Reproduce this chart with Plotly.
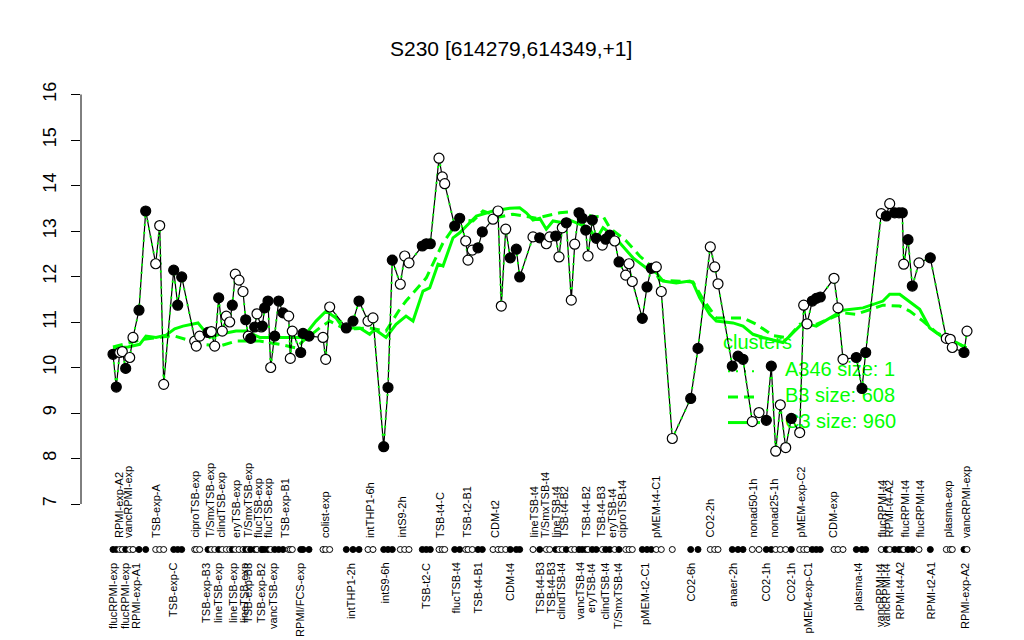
import plotly.graph_objects as go

# ---- sample positions (order along the x axis), expression values, symbol fill ----
pos = [0.0, 3.3, 6.7, 9.3, 12.7, 16.7, 20.0, 26.0, 32.7, 42.7, 46.7, 50.7, 60.7, 64.7, 68.7,
       81.7, 83.3, 86.7, 95.0, 98.3, 101.7, 105.7, 109.3, 113.3, 116.7, 119.3, 122.3, 126.0,
       130.0, 132.7, 135.3, 137.7, 141.7, 144.0, 148.3, 149.3, 151.7, 155.0, 157.7, 161.7,
       165.7, 170.0, 175.7, 177.3, 179.3, 187.7, 190.0, 196.0, 210.0, 212.7, 216.7, 233.3,
       240.0, 246.0, 255.0, 260.0, 270.7, 275.0, 279.3, 287.3, 291.7, 296.0, 309.3, 313.3,
       317.3, 326.0, 329.3, 331.7, 341.7, 346.7, 352.7, 355.0, 359.3, 365.0, 369.3, 380.0,
       385.0, 388.3, 392.7, 397.3, 403.3, 406.7, 420.0, 426.7, 433.3, 436.7, 442.7, 446.0,
       449.3, 453.3, 458.3, 461.7, 466.0, 469.3, 472.7, 475.0, 479.3, 483.3, 489.3, 492.7,
       496.7, 501.7, 506.0, 512.7, 516.0, 519.3, 529.3, 534.0, 538.3, 543.3, 548.3, 559.3,
       577.7, 585.0, 597.3, 601.7, 605.0, 619.3, 625.0, 630.0, 639.3, 646.0, 653.3, 658.3,
       662.7, 667.3, 672.7, 678.3, 686.7, 690.7, 694.0, 699.3, 703.3, 707.3, 721.0, 725.0,
       730.0, 743.3, 749.0, 752.7, 768.3, 773.3, 776.7, 781.7, 786.0, 789.3, 790.7, 795.0,
       799.3, 806.0, 817.3, 833.3, 837.3, 839.3, 851.0, 854.0]
vals = [10.29, 9.57, 10.33, 10.35, 9.98, 10.22, 10.66, 11.26, 13.44, 12.28, 13.12, 9.63, 12.14,
        11.37, 11.99, 10.58, 10.47, 10.69, 10.77, 10.79, 10.47, 11.53, 10.80, 11.13, 11.00,
        11.37, 12.05, 11.92, 11.67, 11.05, 10.69, 10.64, 10.89, 11.18, 10.89, 10.91, 11.31,
        11.46, 10.00, 10.69, 11.46, 11.20, 11.13, 10.20, 10.80, 10.33, 10.75, 10.69, 10.66,
        10.18, 11.33, 10.87, 11.02, 11.46, 11.02, 11.09, 8.26, 9.56, 12.36, 11.83, 12.45,
        12.30, 12.67, 12.72, 12.72, 14.60, 14.19, 14.04, 13.11, 13.28, 12.78, 12.36, 12.58,
        12.63, 12.98, 13.26, 13.44, 11.35, 13.04, 12.41, 12.60, 11.99, 12.87, 12.85, 12.72,
        12.87, 12.89, 12.43, 13.07, 13.18, 11.48, 12.71, 13.40, 13.28, 13.02, 12.45, 13.24,
        12.84, 12.69, 12.82, 12.91, 12.78, 12.32, 12.03, 12.28, 11.89, 11.08, 11.77, 12.18,
        12.21, 11.67, 8.44, 9.32, 10.42, 12.65, 12.21, 11.84, 10.03, 10.25, 10.18, 8.81, 9.01,
        8.84, 10.03, 8.16, 9.18, 8.24, 8.88, 8.57, 11.37, 10.96, 11.46, 11.52, 11.55, 11.96,
        11.31, 10.18, 10.22, 9.54, 10.33, 13.38, 13.33, 13.60, 13.40, 13.40, 13.40, 12.27,
        12.81, 11.79, 12.30, 12.41, 10.64, 10.62, 10.44, 10.33, 10.80]
filled = [1, 1, 0, 0, 1, 0, 0, 1, 1, 0, 0, 0, 1, 1, 1,
          0, 0, 0, 1, 0, 0, 1, 0, 0, 0, 1, 0, 0,
          0, 1, 0, 1, 1, 0, 0, 1, 1, 1, 0, 1,
          1, 1, 0, 0, 0, 1, 1, 1, 0, 0, 0, 1,
          1, 1, 0, 0, 1, 1, 1, 0, 0, 0, 1, 1,
          1, 0, 0, 0, 1, 1, 0, 0, 0, 1, 1, 0,
          0, 0, 0, 1, 1, 1, 0, 1, 0, 0, 1, 0,
          0, 1, 0, 0, 1, 1, 1, 0, 1, 1, 0, 1,
          1, 0, 1, 0, 0, 0, 1, 1, 1, 0, 0, 0,
          1, 1, 0, 0, 0, 1, 1, 1, 0, 0, 1, 1,
          0, 0, 0, 1, 0, 0, 0, 1, 1, 1, 0, 0,
          0, 1, 1, 1, 0, 1, 0, 1, 1, 1, 0, 1,
          1, 0, 1, 0, 0, 0, 1, 0]

# ---- cluster mean profiles ----
c3_pos = [0, 15, 26.7, 33, 43, 53, 61.7, 70, 85, 90, 96.7, 106.7, 123, 133, 146.7, 163, 176.7,
          190, 203, 213, 223, 230, 246.7, 256.7, 261.7, 273, 283, 293, 300, 310, 316.7, 325,
          330, 340, 346.7, 363.3, 380, 396.7, 406.7, 413.3, 420, 426.7, 433.3, 440, 450, 456.7,
          466.7, 476.7, 483.3, 490, 496.7, 506.7, 520, 533.3, 543.3, 550, 563.3, 576.7, 580,
          586.7, 596.7, 603.3, 620, 630, 640, 650, 670, 680, 690, 703.3, 716.7, 730, 750,
          770, 776.7, 786.7, 793.3, 806.7, 816.7, 830, 843.3, 853.3]
c3_val = [10.43, 10.45, 10.51, 10.69, 10.66, 10.71, 10.85, 10.91, 10.98, 10.85, 10.66, 10.73,
          10.80, 10.80, 10.66, 10.66, 10.66, 10.66, 11.02, 11.24, 11.09, 10.87, 10.87, 10.73,
          10.84, 10.66, 10.95, 11.13, 11.02, 11.68, 11.75, 12.27, 12.23, 12.85, 12.96, 13.33,
          13.44, 13.50, 13.51, 13.40, 13.24, 13.28, 13.04, 13.22, 13.18, 13.24, 13.15, 13.04,
          12.82, 13.07, 12.96, 12.74, 12.41, 12.19, 12.08, 11.90, 11.86, 11.90, 11.86, 11.53,
          11.17, 11.02, 10.98, 10.91, 10.73, 10.66, 10.55, 10.77, 10.98, 10.91, 11.09, 11.26,
          11.31, 11.46, 11.61, 11.61, 11.50, 11.28, 10.87, 10.66, 10.55, 10.43]
b3_pos = [0, 30, 60, 72, 90, 106.7, 123, 146.7, 166.7, 183, 190, 206.7, 216.7, 230, 243,
          256.7, 273, 286.7, 293, 313.3, 330, 346.7, 360, 370, 386.7, 400, 423.3, 446.7,
          466.7, 480, 490, 496.7, 513.3, 526.7, 540, 546.7, 560, 580, 590, 603.3, 630, 643.3,
          660, 675, 686.7, 703.3, 730, 743.3, 770, 786.7, 796.7, 810, 823.3, 853.3]
b3_val = [10.45, 10.62, 10.70, 10.62, 10.51, 10.47, 10.58, 10.58, 10.51, 10.43, 10.58, 10.87,
          11.02, 10.87, 10.85, 10.87, 10.80, 11.28, 11.46, 11.97, 12.74, 13.26, 13.22, 13.44,
          13.31, 13.37, 13.28, 13.40, 13.44, 13.31, 13.33, 13.07, 12.78, 12.45, 12.19, 11.92,
          11.90, 11.88, 11.50, 11.09, 11.09, 10.95, 10.70, 10.65, 10.95, 10.95, 11.20, 11.17,
          11.37, 11.35, 11.24, 11.02, 10.77, 10.43]

# ---- sample labels (two rows under the axis) ----
top_pos = [6, 15, 43, 82, 97, 108, 123, 135, 145, 155, 172, 212, 257, 289, 327, 354, 382,
           421, 432, 443, 451, 473, 488, 499, 509, 543, 597, 640, 661, 688, 720, 769, 776,
           792, 807, 835, 853]
top_lab = ["RPMI-exp-A2", "vancRPMI-exp", "TSB-exp-A", "ciproTSB-exp", "T/SmxTSB-exp",
           "clindTSB-exp", "eryTSB-exp", "T/SmxTSB-exp", "flucTSB-exp", "flucTSB-exp",
           "TSB-exp-B1", "colist-exp", "intTHP1-6h", "intS9-2h", "TSB-t4-C", "TSB-t2-B1",
           "CDM-t2", "lineTSB-t4", "T/SmxTSB-t4", "lineTSB-t4", "TSB-t4-B2", "TSB-t4-B2",
           "TSB-t4-B3", "eryTSB-t4", "ciproTSB-t4", "pMEM-t4-C1", "CO2-2h", "nonad50-1h",
           "nonad25-1h", "pMEM-exp-C2", "CDM-exp", "flucRPMI-t4", "RPMI-t4-A2",
           "flucRPMI-t4", "flucRPMI-t4", "plasma-exp", "vancRPMI-exp"]
bot_pos = [0, 12, 23, 60, 93, 105, 120, 131, 135, 148, 160, 187, 238, 272, 313, 343, 365,
           397, 427, 438, 448, 467, 478, 492, 505, 532, 578, 620, 653, 678, 695, 745, 767,
           773, 787, 818, 852]
bot_lab = ["flucRPMI-exp", "flucRPMI-exp", "RPMI-exp-A1", "TSB-exp-C", "TSB-exp-B3",
           "lineTSB-exp", "lineTSB-exp", "lineTSB-exp", "TSB-exp-B3", "TSB-exp-B2",
           "vancTSB-exp", "RPMI/FCS-exp", "intTHP1-2h", "intS9-6h", "TSB-t2-C", "flucTSB-t4",
           "TSB-t4-B1", "CDM-t4", "TSB-t4-B3", "TSB-t4-B3", "clindTSB-t4", "vancTSB-t4",
           "eryTSB-t4", "clindTSB-t4", "T/SmxTSB-t4", "pMEM-t2-C1", "CO2-6h", "anaer-2h",
           "CO2-1h", "CO2-1h", "pMEM-exp-C1", "plasma-t4", "vancRPMI-t4", "vancRPMI-t4",
           "RPMI-t4-A2", "RPMI-t2-A1", "RPMI-exp-A2"]

y_ticks = [7, 8, 9, 10, 11, 12, 13, 14, 15, 16]
title = "S230 [614279,614349,+1]"
legend_title = "clusters"
legend_labels = ["A346 size: 1", "B3 size: 608", "C3 size: 960"]

GREEN = "#00ff00"
FONT = "Liberation Sans"
DOT_Y = 6.0
TOP_Y = 6.21
BOT_Y = 5.75

fig = go.Figure()

# legend (drawn first so the data sits on top of it)
leg_x0, leg_x1, leg_tx = 615, 647, 672
leg_y = [9.92, 9.35, 8.79]
fig.add_trace(go.Scatter(x=[610], y=[10.52], mode="text", text=[legend_title],
                         textposition="middle right",
                         textfont=dict(family=FONT, size=20, color=GREEN),
                         showlegend=False, hoverinfo="skip"))
fig.add_trace(go.Scatter(x=[leg_tx] * 3, y=leg_y, mode="text", text=legend_labels,
                         textposition="middle right",
                         textfont=dict(family=FONT, size=20, color=GREEN),
                         showlegend=False, hoverinfo="skip"))
for yy, dash in zip(leg_y, ["2px,6px", "10px,6px", "solid"]):
    fig.add_trace(go.Scatter(x=[leg_x0, leg_x1], y=[yy, yy], mode="lines",
                             line=dict(color=GREEN, width=3 if dash != "2px,6px" else 2,
                                       dash=dash),
                             showlegend=False, hoverinfo="skip"))

# cluster profiles
fig.add_trace(go.Scatter(x=c3_pos, y=c3_val, mode="lines",
                         line=dict(color=GREEN, width=3), showlegend=False))
fig.add_trace(go.Scatter(x=b3_pos, y=b3_val, mode="lines",
                         line=dict(color=GREEN, width=3, dash="10px,6px"), showlegend=False))

# the gene profile
fig.add_trace(go.Scatter(x=pos, y=vals, mode="lines",
                         line=dict(color="black", width=1.2), showlegend=False))
fig.add_trace(go.Scatter(x=pos, y=vals, mode="lines",
                         line=dict(color=GREEN, width=2, dash="2px,6px"), showlegend=False))
fcol = ["black" if f else "white" for f in filled]
fig.add_trace(go.Scatter(x=pos, y=vals, mode="markers",
                         marker=dict(size=10, color=fcol, line=dict(color="black", width=1.2)),
                         showlegend=False))
# sample symbol row under the axis
fig.add_trace(go.Scatter(x=pos, y=[DOT_Y] * len(pos), mode="markers",
                         marker=dict(size=6, color=fcol, line=dict(color="black", width=1)),
                         showlegend=False))

ann = []
for p, t in zip(top_pos, top_lab):
    ann.append(dict(x=p, y=TOP_Y, xref="x", yref="y", text=t, textangle=-90,
                    showarrow=False, xanchor="center", yanchor="bottom",
                    font=dict(family=FONT, size=11, color="black")))
for p, t in zip(bot_pos, bot_lab):
    ann.append(dict(x=p, y=BOT_Y, xref="x", yref="y", text=t, textangle=-90,
                    showarrow=False, xanchor="center", yanchor="top",
                    font=dict(family=FONT, size=11, color="black")))
ann.append(dict(x=0.468, y=0.9403, xref="paper", yref="paper", text=title,
                showarrow=False, xanchor="center", yanchor="middle",
                font=dict(family=FONT, size=21, color="black")))

fig.update_layout(
    width=1024, height=640,
    margin=dict(l=73, r=32, t=3, b=17),
    paper_bgcolor="white", plot_bgcolor="white",
    annotations=ann,
    shapes=[dict(type="line", xref="paper", yref="y", x0=0, x1=0,
                 y0=min(y_ticks), y1=max(y_ticks), line=dict(color="black", width=1))],
    xaxis=dict(range=[-32, 887], visible=False),
    yaxis=dict(range=[4.209, 17.835], tickvals=y_ticks, ticks="outside", ticklen=9,
               tickwidth=1, tickcolor="black", showgrid=False, zeroline=False,
               showline=False, tickangle=-90, ticklabelstandoff=8,
               tickfont=dict(family=FONT, size=18, color="black")),
    showlegend=False,
)

fig.write_html("out.html")
